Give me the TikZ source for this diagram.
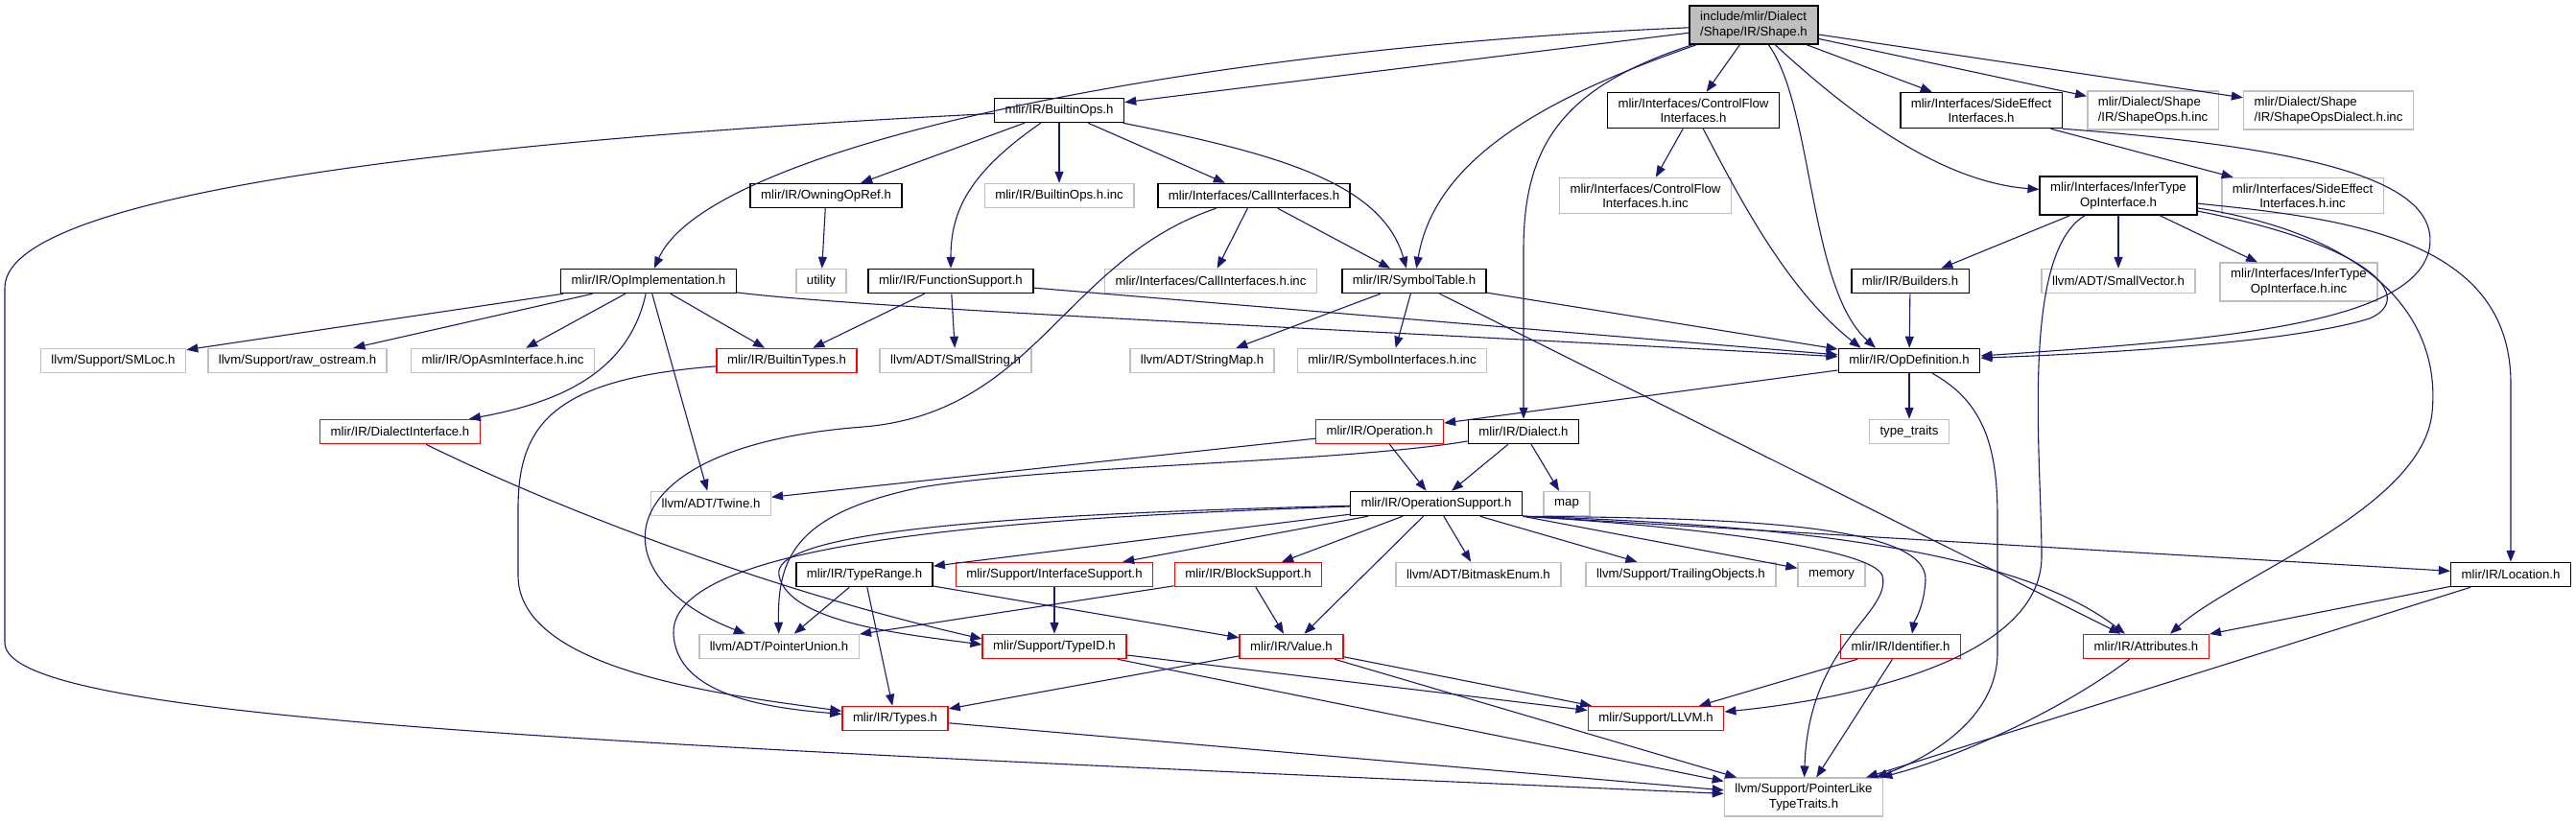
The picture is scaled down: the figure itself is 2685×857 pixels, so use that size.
\documentclass[tikz,border=0pt]{standalone}
\usepackage{fontspec}
\setmainfont{Liberation Sans}
\usepackage{tikz}
\usetikzlibrary{arrows.meta, calc}
\definecolor{depblue}{RGB}{25, 25, 112}
\definecolor{extgray}{RGB}{191, 191, 191}
\definecolor{mainfill}{RGB}{191, 191, 191}
\definecolor{truncred}{RGB}{255, 0, 0}

\begin{document}
\begin{tikzpicture}[
  x=1pt, y=-1pt,
  file/.style={rectangle, draw, line width=1.5pt, fill=white, minimum height=25pt,
               inner xsep=11pt, inner ysep=6pt, align=center,
               font=\fontsize{13.2}{15.3}\selectfont},
  docbox/.style={file, draw=black},
  redbox/.style={file, draw=truncred},
  extbox/.style={file, draw=extgray},
  mainbox/.style={file, draw=black, fill=mainfill, align=left},
  dep/.style={-{Triangle[length=12pt,width=9pt]}, line width=1.1pt, draw=depblue},
]
  \fill[white] (0,0) rectangle (2685,857);
  \useasboundingbox (0,0) rectangle (2685,857);

  \node[mainbox] (shape) at (1828,26) {include/mlir/Dialect\\/Shape/IR/Shape.h};

  \node[docbox] (bops) at (1104,115) {mlir/IR/BuiltinOps.h};
  \node[docbox] (cflow) at (1765,115) {mlir/Interfaces/ControlFlow\\Interfaces.h};
  \node[docbox] (sideeff) at (2065,115) {mlir/Interfaces/SideEffect\\Interfaces.h};
  \node[extbox, align=left] (shapeops) at (2244,115) {mlir/Dialect/Shape\\/IR/ShapeOps.h.inc};
  \node[extbox, align=left] (shapedial) at (2427,115) {mlir/Dialect/Shape\\/IR/ShapeOpsDialect.h.inc};

  \node[docbox] (owning) at (861,204) {mlir/IR/OwningOpRef.h};
  \node[extbox] (bopsinc) at (1104,204) {mlir/IR/BuiltinOps.h.inc};
  \node[docbox] (callif) at (1307,204) {mlir/Interfaces/CallInterfaces.h};
  \node[extbox] (cflowinc) at (1715,204) {mlir/Interfaces/ControlFlow\\Interfaces.h.inc};
  \node[docbox] (infertype) at (2208,204) {mlir/Interfaces/InferType\\OpInterface.h};
  \node[extbox] (sideinc) at (2400,204) {mlir/Interfaces/SideEffect\\Interfaces.h.inc};

  \node[docbox] (opimpl) at (676,293) {mlir/IR/OpImplementation.h};
  \node[extbox] (utility) at (856,293) {utility};
  \node[docbox] (funcsup) at (991,293) {mlir/IR/FunctionSupport.h};
  \node[extbox] (callinc) at (1262,293) {mlir/Interfaces/CallInterfaces.h.inc};
  \node[docbox] (symtab) at (1474,293) {mlir/IR/SymbolTable.h};
  \node[docbox] (builders) at (1991,293) {mlir/IR/Builders.h};
  \node[extbox] (smallvec) at (2208,293) {llvm/ADT/SmallVector.h};
  \node[extbox] (inferinc) at (2396,294) {mlir/Interfaces/InferType\\OpInterface.h.inc};

  \node[extbox] (smloc) at (118,376) {llvm/Support/SMLoc.h};
  \node[extbox] (rawos) at (310,376) {llvm/Support/raw\_ostream.h};
  \node[extbox] (opasm) at (524,376) {mlir/IR/OpAsmInterface.h.inc};
  \node[redbox] (btypes) at (820,376) {mlir/IR/BuiltinTypes.h};
  \node[extbox] (smallstr) at (996,376) {llvm/ADT/SmallString.h};
  \node[extbox] (strmap) at (1253,376) {llvm/ADT/StringMap.h};
  \node[extbox] (symif) at (1451,376) {mlir/IR/SymbolInterfaces.h.inc};
  \node[docbox] (opdef) at (1990,376) {mlir/IR/OpDefinition.h};

  \node[redbox] (dialif) at (417,450) {mlir/IR/DialectInterface.h};
  \node[redbox] (operation) at (1438,450) {mlir/IR/Operation.h};
  \node[docbox] (dialect) at (1588,450) {mlir/IR/Dialect.h};
  \node[extbox] (typetr) at (1990,450) {type\_traits};

  \node[extbox] (twine) at (741,525) {llvm/ADT/Twine.h};
  \node[docbox] (opsupp) at (1497,525) {mlir/IR/OperationSupport.h};
  \node[extbox] (map) at (1633,525) {map};

  \node[docbox] (typerange) at (901,599) {mlir/IR/TypeRange.h};
  \node[redbox] (ifsupp) at (1099,599) {mlir/Support/InterfaceSupport.h};
  \node[redbox] (blocksup) at (1301,599) {mlir/IR/BlockSupport.h};
  \node[extbox] (bitmask) at (1541,599) {llvm/ADT/BitmaskEnum.h};
  \node[extbox] (trailing) at (1752,599) {llvm/Support/TrailingObjects.h};
  \node[extbox] (memory) at (1909,599) {memory};
  \node[docbox] (location) at (2617,599) {mlir/IR/Location.h};

  \node[extbox] (ptrunion) at (812,674) {llvm/ADT/PointerUnion.h};
  \node[redbox] (typeid) at (1099,674) {mlir/Support/TypeID.h};
  \node[redbox] (value) at (1346,674) {mlir/IR/Value.h};
  \node[redbox] (ident) at (1981,674) {mlir/IR/Identifier.h};
  \node[redbox] (attrs) at (2237,674) {mlir/IR/Attributes.h};

  \node[redbox] (types) at (933,749) {mlir/IR/Types.h};
  \node[redbox] (llvm) at (1726,749) {mlir/Support/LLVM.h};

  \node[extbox] (ptrlike) at (1880,831) {llvm/Support/PointerLike\\TypeTraits.h};

  \draw[dep] (shape) .. controls (1250,50) and (740,150) .. (opimpl);
  \draw[dep] (shape) -- (bops);
  \draw[dep] (shape) .. controls (1600,105) and (1495,170) .. (symtab);
  \draw[dep] (shape) .. controls (1630,90) and (1588,150) .. (1588,260) -- (dialect);
  \draw[dep] (shape) -- (cflow);
  \draw[dep] (shape) .. controls (1890,110) and (1885,300) .. ($(opdef.north)+(-35,0)$);
  \draw[dep] (shape) .. controls (1940,130) and (2030,190) .. (infertype);
  \draw[dep] (shape) -- (sideeff);
  \draw[dep] (shape) -- (shapeops);
  \draw[dep] (shape) -- (shapedial);

  \draw[dep] (bops) .. controls (600,140) and (5,190) .. (5,300) -- (5,670) .. controls (5,750) and (600,775) .. (ptrlike);
  \draw[dep] (bops) -- (owning);
  \draw[dep] (bops) .. controls (1010,180) and (991,220) .. (funcsup);
  \draw[dep] (bops) -- (bopsinc);
  \draw[dep] (bops) -- (callif);
  \draw[dep] (bops) .. controls (1330,160) and (1440,190) .. ($(symtab.north)+(-8,0)$);

  \draw[dep] (owning) -- (utility);

  \draw[dep] (callif) -- (callinc);
  \draw[dep] (callif) -- (symtab);
  \draw[dep] (callif) .. controls (1110,270) and (1080,430) .. (900,445) .. controls (630,465) and (620,600) .. ($(ptrunion.north)+(-35,0)$);

  \draw[dep] (funcsup) -- (btypes);
  \draw[dep] (funcsup) -- (smallstr);
  \draw[dep] (funcsup) -- (opdef);

  \draw[dep] (symtab) -- (strmap);
  \draw[dep] (symtab) -- (symif);
  \draw[dep] (symtab) -- (opdef);
  \draw[dep] (symtab) -- (attrs);

  \draw[dep] (opimpl) -- (smloc);
  \draw[dep] (opimpl) -- (rawos);
  \draw[dep] (opimpl) -- (opasm);
  \draw[dep] (opimpl) -- (btypes);
  \draw[dep] (opimpl) -- (twine);
  \draw[dep] (opimpl) .. controls (655,390) and (580,420) .. (dialif);
  \draw[dep] (opimpl) .. controls (900,322) and (1500,348) .. (opdef);

  \draw[dep] (btypes) .. controls (580,395) and (540,440) .. (540,530) -- (540,600) .. controls (540,700) and (760,725) .. (types);

  \draw[dep] (dialif) .. controls (580,530) and (800,615) .. ($(typeid.west)+(0,-8)$);

  \draw[dep] (operation) -- (opsupp);
  \draw[dep] (operation) -- (twine);

  \draw[dep] (dialect) -- (opsupp);
  \draw[dep] (dialect) -- (map);
  \draw[dep] (dialect) .. controls (1400,482) and (1100,485) .. (960,508) .. controls (830,535) and (810,580) .. (ptrunion);

  \draw[dep] (opdef) -- (operation);
  \draw[dep] (opdef) -- (typetr);
  \draw[dep] (opdef) .. controls (2070,420) and (2082,470) .. (2082,540) -- (2082,680) .. controls (2082,750) and (2010,790) .. ($(ptrlike.north east)+(-8,0)$);

  \draw[dep] (opsupp) .. controls (1100,535) and (800,550) .. (812,600) .. controls (822,650) and (950,662) .. ($(typeid.west)+(0,-2)$);
  \draw[dep] (opsupp) .. controls (1050,540) and (700,565) .. (702,660) .. controls (704,725) and (800,738) .. (types);
  \draw[dep] (opsupp) -- (typerange);
  \draw[dep] (opsupp) -- (ifsupp);
  \draw[dep] (opsupp) -- (blocksup);
  \draw[dep] (opsupp) -- (value);
  \draw[dep] (opsupp) -- (bitmask);
  \draw[dep] (opsupp) -- (trailing);
  \draw[dep] (opsupp.south east) -- (memory);
  \draw[dep] (opsupp.south east) .. controls (1750,548) and (1950,570) .. (1962,600) .. controls (1972,640) and (1885,670) .. (ptrlike);
  \draw[dep] (opsupp.south east) .. controls (1800,540) and (2010,545) .. (2007,605) .. controls (2005,635) and (1995,648) .. ($(ident.north)+(12,0)$);
  \draw[dep] (opsupp.south east) .. controls (1900,548) and (2110,580) .. ($(attrs.north)+(-22,0)$);
  \draw[dep] (opsupp.south east) -- (location);

  \draw[dep] (typerange) -- (ptrunion);
  \draw[dep] (typerange) -- (types);
  \draw[dep] (typerange) -- (value);

  \draw[dep] (ifsupp) -- (typeid);

  \draw[dep] (blocksup) -- (ptrunion);
  \draw[dep] (blocksup) -- (value);

  \draw[dep] (typeid) -- (llvm);
  \draw[dep] (typeid) -- (ptrlike);

  \draw[dep] (value) -- (types);
  \draw[dep] (value) -- (llvm);
  \draw[dep] (value) -- (ptrlike);

  \draw[dep] (ident) -- (llvm);
  \draw[dep] (ident) -- (ptrlike);

  \draw[dep] (attrs) .. controls (2150,740) and (2040,790) .. ($(ptrlike.north east)+(-3,0)$);

  \draw[dep] (location) -- (attrs);
  \draw[dep] (location) -- (ptrlike);

  \draw[dep] (types) -- (ptrlike);

  \draw[dep] (infertype) -- (builders);
  \draw[dep] (infertype) -- (smallvec);
  \draw[dep] (infertype) -- (inferinc);
  \draw[dep] (infertype) .. controls (2470,255) and (2520,310) .. (2470,332) .. controls (2380,360) and (2150,370) .. (opdef);
  \draw[dep] (infertype) .. controls (2105,265) and (2128,480) .. (2128,580) .. controls (2128,690) and (1920,730) .. (llvm);
  \draw[dep] (infertype) .. controls (2470,245) and (2545,330) .. (2535,430) .. controls (2525,530) and (2330,600) .. ($(attrs.north)+(25,0)$);
  \draw[dep] (infertype) .. controls (2450,228) and (2617,250) .. (2617,400) -- (location);

  \draw[dep] (sideeff) -- (sideinc);
  \draw[dep] (sideeff.south east) .. controls (2420,155) and (2545,190) .. (2532,260) .. controls (2515,340) and (2300,355) .. (opdef);

  \draw[dep] (cflow) -- (cflowinc);
  \draw[dep] (cflow) .. controls (1810,200) and (1860,300) .. ($(opdef.north west)+(24,0)$);

  \draw[dep] (builders) -- (opdef);
\end{tikzpicture}
\end{document}
